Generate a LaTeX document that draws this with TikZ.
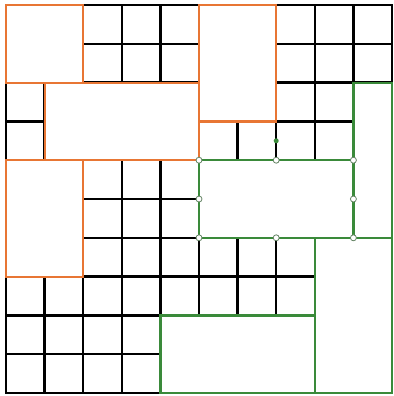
\documentclass[tikz,border=0pt]{standalone}
\definecolor{gridorange}{RGB}{232,118,52}
\definecolor{gridgreen}{RGB}{58,138,58}
\tikzset{
  gridline/.style={black,line width=2.4pt,line cap=rect},
  orangebox/.style={draw=gridorange,fill=white,line width=2.2pt},
  greenbox/.style={draw=gridgreen,fill=white,line width=2.2pt},
  vertexdot/.style={circle,draw=gray!60!gridgreen,fill=white,line width=0.8pt,inner sep=0pt,minimum size=6pt},
  greenmark/.style={circle,fill=gridgreen,inner sep=0pt,minimum size=5pt}
}
\begin{document}
\begin{tikzpicture}[x=38.6pt,y=-38.8pt]
\useasboundingbox[fill=white] (-0.1554,-0.1289) rectangle (10.026,10.077);
% black grid
\foreach \k in {0,...,10} {
  \draw[gridline] (\k,0) -- (\k,10);
  \draw[gridline] (0,\k) -- (10,\k);
}
% orange merged cells
\draw[orangebox] (0,0) rectangle (2,2);
\draw[orangebox] (5,0) rectangle (7,3);
\draw[orangebox] (1,2) rectangle (5,4);
\draw[orangebox] (0,4) rectangle (2,7);
% green merged cells
\draw[greenbox] (9,2) rectangle (10,6);
\draw[greenbox] (5,4) rectangle (9,6);
\draw[greenbox] (8,6) rectangle (10,10);
\draw[greenbox] (4,8) rectangle (8,10);
% small green mark
\node[greenmark] (mark) at (7,3.5) {};
% vertex markers of the green rectangle
\foreach \p/\q [count=\i] in {5/4,7/4,9/4,5/5,9/5,5/6,7/6,9/6}
  \node[vertexdot] (v\i) at (\p,\q) {};
\end{tikzpicture}
\end{document}
